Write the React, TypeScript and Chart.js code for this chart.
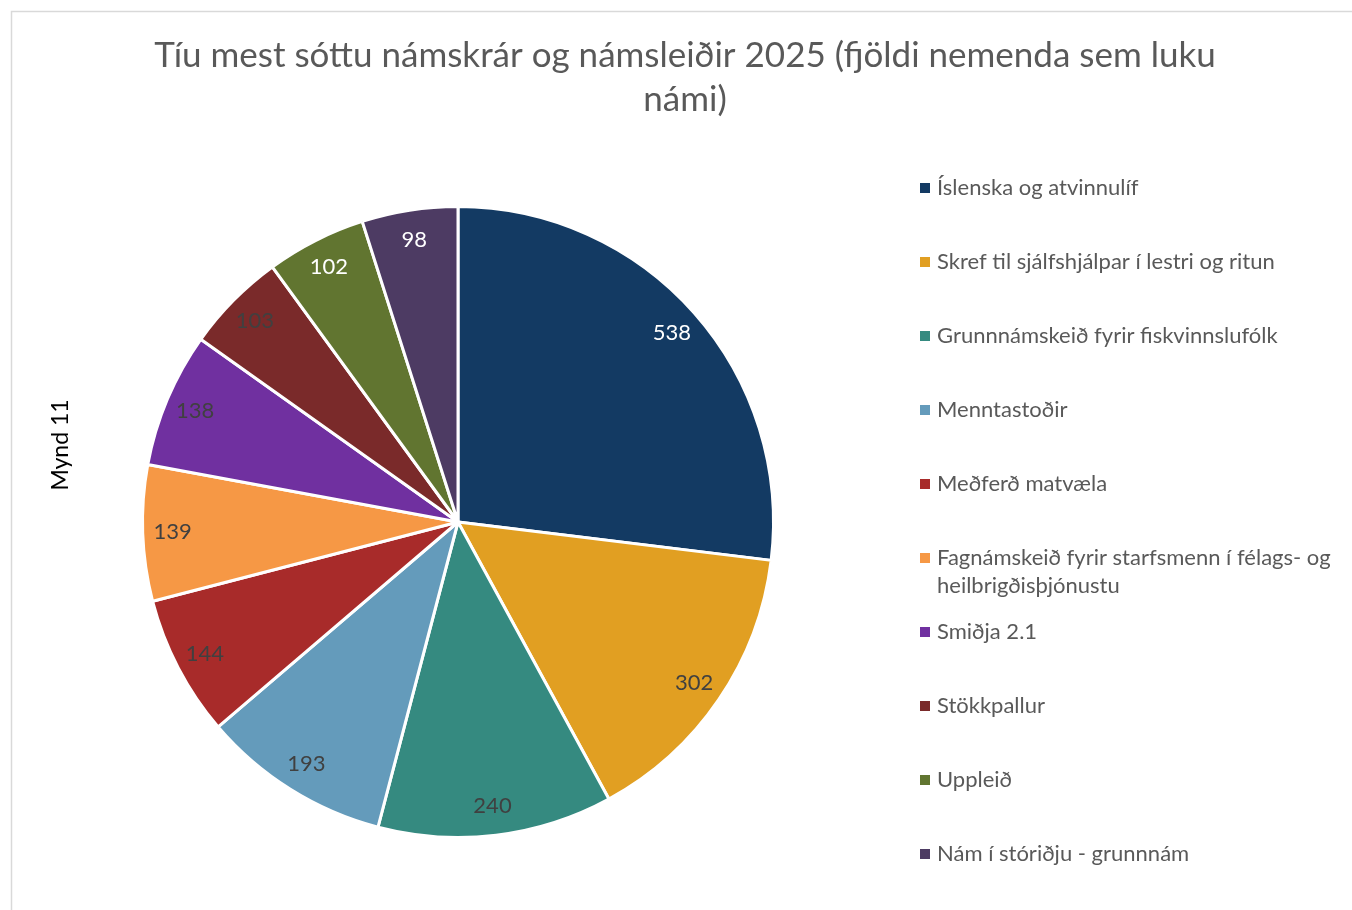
import React, { useEffect, useRef } from "react";
import { Chart, registerables } from "chart.js";

Chart.register(...registerables);

const titleLines = ["Tíu mest sóttu námskrár og námsleiðir 2025 (fjöldi nemenda sem luku", "námi)"];
const sideLabel = "Mynd 11";
const categories = [
  "Íslenska og atvinnulíf",
  "Skref til sjálfshjálpar í lestri og ritun",
  "Grunnnámskeið fyrir fiskvinnslufólk",
  "Menntastoðir",
  "Meðferð matvæla",
  "Fagnámskeið fyrir starfsmenn í félags- og heilbrigðisþjónustu",
  "Smiðja 2.1",
  "Stökkpallur",
  "Uppleið",
  "Nám í stóriðju - grunnnám",
];
const legendLines = [
  ["Íslenska og atvinnulíf"],
  ["Skref til sjálfshjálpar í lestri og ritun"],
  ["Grunnnámskeið fyrir fiskvinnslufólk"],
  ["Menntastoðir"],
  ["Meðferð matvæla"],
  ["Fagnámskeið fyrir starfsmenn í félags- og", "heilbrigðisþjónustu"],
  ["Smiðja 2.1"],
  ["Stökkpallur"],
  ["Uppleið"],
  ["Nám í stóriðju - grunnnám"],
];
const values = [538, 302, 240, 193, 144, 139, 138, 103, 102, 98];
const colors = [
  "#133a63", "#e19f22", "#358a80", "#649bbb", "#a82b2a",
  "#f69845", "#7030a0", "#7a2a2a", "#617530", "#4d3b63",
];
const labelColors = [
  "#ffffff", "#404040", "#404040", "#404040", "#404040",
  "#404040", "#404040", "#404040", "#ffffff", "#ffffff",
];

const FONT = "Lato, 'Open Sans', sans-serif";

const decorPlugin = {
  id: "decor",
  beforeDraw(chart: any) {
    const ctx = chart.ctx;
    ctx.save();
    ctx.fillStyle = "#ffffff";
    ctx.fillRect(0, 0, chart.width, chart.height);
    ctx.strokeStyle = "#d9d9d9";
    ctx.lineWidth = 1.5;
    ctx.beginPath();
    ctx.moveTo(11.5, chart.height + 5);
    ctx.lineTo(11.5, 11.5);
    ctx.lineTo(chart.width + 5, 11.5);
    ctx.stroke();
    ctx.restore();
  },
  afterDraw(chart: any) {
    const ctx = chart.ctx;
    ctx.save();
    // title
    ctx.fillStyle = "#595959";
    ctx.font = `35px ${FONT}`;
    ctx.textAlign = "center";
    ctx.textBaseline = "middle";
    titleLines.forEach((t, i) => ctx.fillText(t, 685, 56 + i * 44));
    // side label
    ctx.save();
    ctx.translate(61, 445);
    ctx.rotate(-Math.PI / 2);
    ctx.fillStyle = "#000000";
    ctx.font = `23px ${FONT}`;
    ctx.fillText(sideLabel, 0, 0);
    ctx.restore();
    // data labels
    const meta = chart.getDatasetMeta(0);
    ctx.font = `22px ${FONT}`;
    meta.data.forEach((arc: any, i: number) => {
      const p = arc.getProps(["x", "y", "startAngle", "endAngle", "outerRadius"], true);
      const mid = (p.startAngle + p.endAngle) / 2;
      const r = p.outerRadius * 0.905;
      ctx.fillStyle = labelColors[i];
      ctx.fillText(String(values[i]), p.x + Math.cos(mid) * r, p.y + Math.sin(mid) * r);
    });
    // legend
    ctx.textAlign = "left";
    ctx.font = `22px ${FONT}`;
    legendLines.forEach((lines, i) => {
      const y = 188 + i * 74;
      ctx.fillStyle = colors[i];
      ctx.fillRect(920, y - 5, 10, 10);
      ctx.fillStyle = "#595959";
      lines.forEach((l, j) => ctx.fillText(l, 937, y + j * 28));
    });
    ctx.restore();
  },
};

export default function App() {
  const ref = useRef<HTMLCanvasElement | null>(null);
  useEffect(() => {
    document.body.style.margin = "0";
    const chart = new Chart(ref.current!, {
      type: "pie",
      data: {
        labels: categories,
        datasets: [
          {
            data: values,
            backgroundColor: colors,
            borderColor: "#ffffff",
            borderWidth: 3,
          },
        ],
      },
      options: {
        animation: false,
        responsive: false,
        layout: { padding: { left: 141, right: 577, top: 205, bottom: 71 } },
        plugins: {
          legend: { display: false },
          title: { display: false },
          tooltip: { enabled: false },
        },
      },
      plugins: [decorPlugin],
    });
    return () => chart.destroy();
  }, []);
  return (
    <div style={{ width: 1352, height: 910, position: "relative", overflow: "hidden" }}>
      <canvas ref={ref} width={1352} height={910} style={{ display: "block" }} />
    </div>
  );
}
